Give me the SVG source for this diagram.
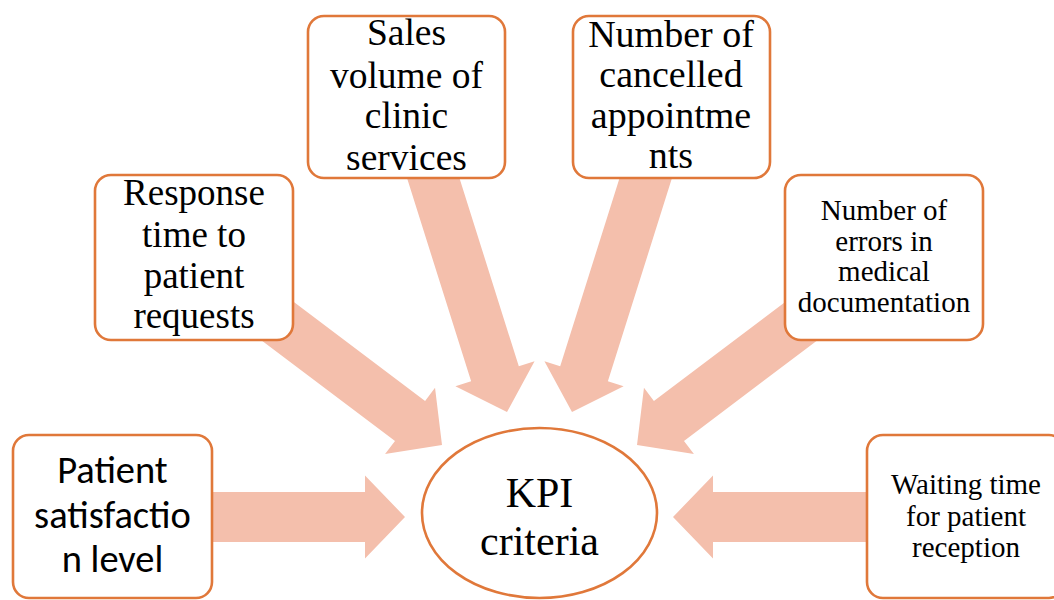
<svg xmlns="http://www.w3.org/2000/svg" width="1054" height="600" viewBox="0 0 1054 600">
  <style>
    .box { fill: #ffffff; stroke: #E0783A; stroke-width: 2.6; }
    .arrow { fill: #F4BFAC; stroke: none; }
    .tx { fill: #000000; text-anchor: middle; }
    .serif { font-family: 'Liberation Serif', 'Times New Roman', serif; }
    .sans { font-family: Carlito, Calibri, 'Liberation Sans', sans-serif; }
  </style>
  <defs>
    <path id="arr220" d="M -220,-25 L -40,-25 L -40,-41.5 L 0,0 L -40,41.5 L -40,25 L -220,25 Z"/>
    <path id="arr240" d="M -240,-25 L -40,-25 L -40,-41.5 L 0,0 L -40,41.5 L -40,25 L -240,25 Z"/>
    <path id="arr260" d="M -260,-25 L -40,-25 L -40,-41.5 L 0,0 L -40,41.5 L -40,25 L -260,25 Z"/>
  </defs>

  <rect width="1054" height="600" fill="#ffffff"/>

  <g id="connectors">
    <use href="#arr220" class="arrow" transform="translate(405,517)"/>
    <use href="#arr220" class="arrow" transform="translate(673,517) rotate(180)"/>
    <use href="#arr240" class="arrow" transform="translate(442,445) rotate(37)"/>
    <use href="#arr240" class="arrow" transform="translate(637,445) rotate(143)"/>
    <use href="#arr260" class="arrow" transform="translate(507,412) rotate(72.5)"/>
    <use href="#arr260" class="arrow" transform="translate(572,412) rotate(107.5)"/>
  </g>

  <g id="kpi" class="serif">
    <ellipse class="box" cx="539.5" cy="513" rx="117.5" ry="85"/>
    <text class="tx" font-size="42" x="539.5" y="507">KPI</text>
    <text class="tx" font-size="42" x="539.5" y="555">criteria</text>
  </g>

  <g id="patient-satisfaction" class="sans">
    <rect class="box" x="13" y="435" width="199" height="163" rx="16" ry="16"/>
    <text class="tx" font-size="38.5" x="112.5" y="483">Patient</text>
    <text class="tx" font-size="38.5" x="112.5" y="528">satisfactio</text>
    <text class="tx" font-size="38.5" x="112.5" y="572">n level</text>
  </g>

  <g id="response-time" class="serif">
    <rect class="box" x="95" y="175" width="198" height="165" rx="16" ry="16"/>
    <text class="tx" font-size="37" x="194" y="205">Response</text>
    <text class="tx" font-size="37" x="194" y="247">time to</text>
    <text class="tx" font-size="37" x="194" y="288">patient</text>
    <text class="tx" font-size="37" x="194" y="328">requests</text>
  </g>

  <g id="sales-volume" class="serif">
    <rect class="box" x="308" y="16" width="197" height="162" rx="16" ry="16"/>
    <text class="tx" font-size="37.5" x="406.5" y="45">Sales</text>
    <text class="tx" font-size="37.5" x="406.5" y="88">volume of</text>
    <text class="tx" font-size="37.5" x="406.5" y="128">clinic</text>
    <text class="tx" font-size="37.5" x="406.5" y="170">services</text>
  </g>

  <g id="cancelled-appointments" class="serif">
    <rect class="box" x="573" y="16" width="197" height="162" rx="16" ry="16"/>
    <text class="tx" font-size="38" x="671" y="47">Number of</text>
    <text class="tx" font-size="38" x="671" y="87">cancelled</text>
    <text class="tx" font-size="38" x="671" y="128">appointme</text>
    <text class="tx" font-size="38" x="671" y="168">nts</text>
  </g>

  <g id="documentation-errors" class="serif">
    <rect class="box" x="785" y="175" width="198" height="165" rx="16" ry="16"/>
    <text class="tx" font-size="29" x="884" y="220">Number of</text>
    <text class="tx" font-size="29" x="884" y="251">errors in</text>
    <text class="tx" font-size="29" x="884" y="281">medical</text>
    <text class="tx" font-size="29" x="884" y="312">documentation</text>
  </g>

  <g id="waiting-time" class="serif">
    <rect class="box" x="867" y="435" width="198" height="163" rx="16" ry="16"/>
    <text class="tx" font-size="29" x="966" y="494">Waiting time</text>
    <text class="tx" font-size="29" x="966" y="526">for patient</text>
    <text class="tx" font-size="29" x="966" y="557">reception</text>
  </g>
</svg>
